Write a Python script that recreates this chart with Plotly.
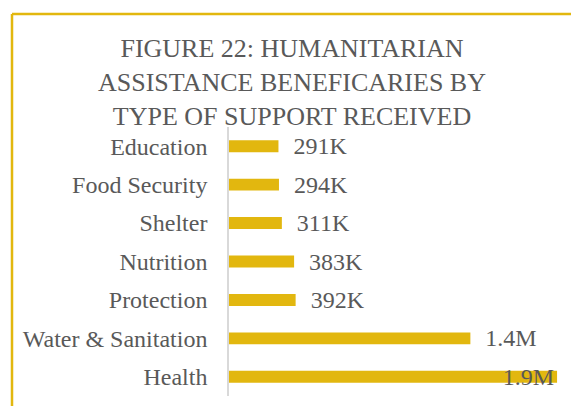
import plotly.graph_objects as go

categories = ['Health', 'Water & Sanitation', 'Protection', 'Nutrition',
              'Shelter', 'Food Security', 'Education']
values = [1930000, 1420000, 392000, 383000, 311000, 294000, 291000]
labels = ['1.9M', '1.4M', '392K', '383K', '311K', '294K', '291K']

W, H = 571, 406
L, R, T, B = 229, 0, 127, 10
pw, ph = W - L - R, H - T - B

def px_x(x):
    return (x - L) / pw

def px_y(y):
    return (H - B - y) / ph

gold = '#E2B70F'
grey = '#595959'
font = 'Liberation Serif'

# outside labels sit a little further from the bar end than plotly's default
pad = '\u00a0\u00a0'
texts = [labels[0]] + [pad + t for t in labels[1:]]

fig = go.Figure()
fig.add_trace(go.Bar(
    x=values,
    y=categories,
    orientation='h',
    marker=dict(color=gold, line=dict(width=0)),
    text=texts,
    textposition=['inside'] + ['outside'] * 6,
    insidetextanchor='end',
    constraintext='none',
    textfont=dict(family=font, size=24, color=grey),
    insidetextfont=dict(family=font, size=24, color=grey),
    outsidetextfont=dict(family=font, size=24, color=grey),
    cliponaxis=False,
    width=0.31,
))

fig.update_layout(
    width=W, height=H,
    margin=dict(l=L, r=R, t=T, b=B),
    plot_bgcolor='white',
    paper_bgcolor='white',
    showlegend=False,
    font=dict(family=font, color=grey),
    title=dict(
        text='FIGURE 22: HUMANITARIAN<br>ASSISTANCE BENEFICARIES BY<br>TYPE OF SUPPORT RECEIVED',
        x=292 / W, xref='container', xanchor='center',
        y=1 - 57 / H, yanchor='top', yref='container',
        font=dict(family=font, size=26, color=grey),
    ),
    xaxis=dict(range=[0, 2012000], visible=False),
    yaxis=dict(
        showgrid=False, showline=True, linecolor='#d9d9d9', linewidth=1.5,
        ticks='', ticklabelstandoff=15,
        tickfont=dict(family=font, size=24, color=grey),
    ),
    shapes=[
        dict(type='line', xref='paper', yref='paper',
             x0=px_x(12), x1=px_x(W + 5), y0=px_y(14), y1=px_y(14),
             line=dict(color=gold, width=2.5)),
        dict(type='line', xref='paper', yref='paper',
             x0=px_x(12), x1=px_x(12), y0=px_y(14), y1=px_y(H + 5),
             line=dict(color=gold, width=2.5)),
    ],
)

fig.write_html('out.html', config={'displayModeBar': False},
               post_script="document.body.style.margin='0';")
